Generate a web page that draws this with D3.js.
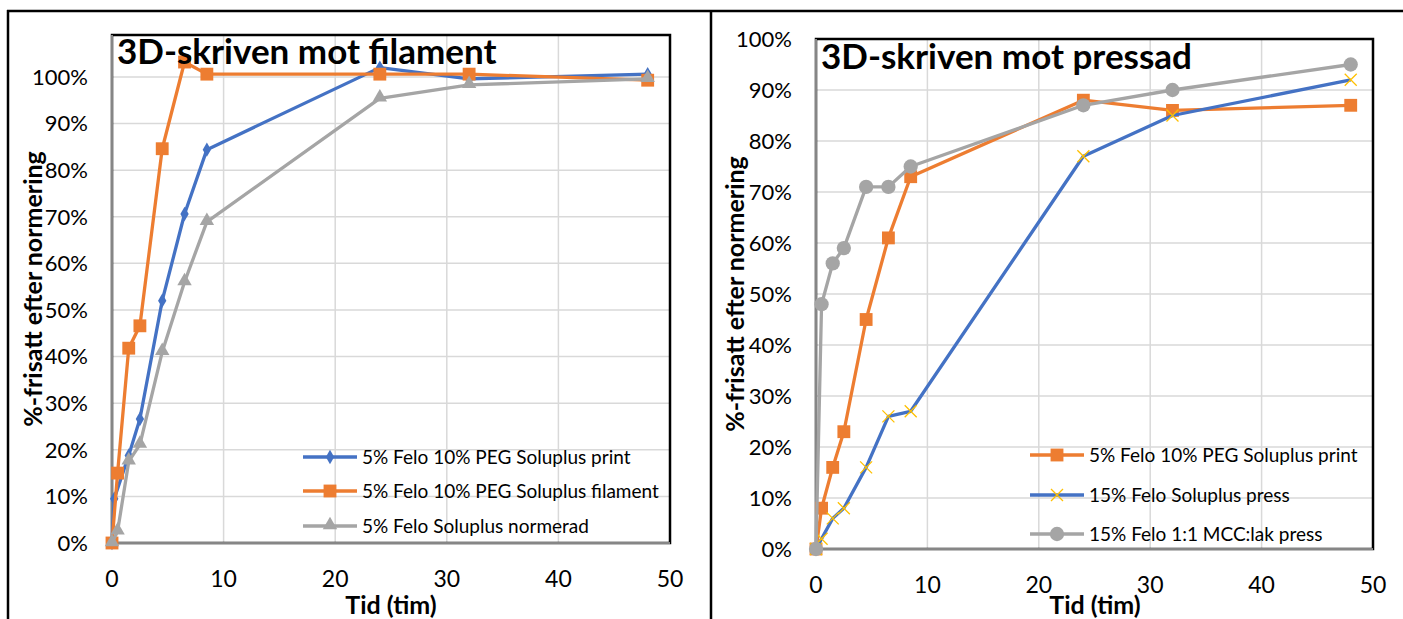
<!DOCTYPE html>
<meta charset="utf-8">
<head>
  <title>Frisättning</title>
</head>
<style>
body { margin: 0; background: #fff; }
svg { display: block; font-family: Lato, "Open Sans", sans-serif; }
.grid line { stroke: #d9d9d9; stroke-width: 1.5; }
.tick-y, .tick-x { font-size: 22px; fill: #000; }
.tick-x { font-size: 23px; }
.legend text { font-size: 19px; fill: #000; }
.title { font-size: 35px; font-weight: bold; fill: #000; }
.axis-title { font-size: 25px; font-weight: bold; fill: #000; }
</style>
<body>
<svg width="1403" height="619"></svg>
<script src="https://cdnjs.cloudflare.com/ajax/libs/d3/7.8.5/d3.min.js"></script>
<script>
// time points (hours)
var hours = [0, 0.5, 1.5, 2.5, 4.5, 6.5, 8.5, 24, 32, 48];
var hoursPrintLeft = [0, 0.2, 1.5, 2.5, 4.5, 6.5, 8.5, 24, 32, 48];

// left chart: 3D-skriven mot filament
var leftPrint     = [0, 0.095, 0.188, 0.266, 0.52, 0.706, 0.844, 1.02, 0.996, 1.006];
var leftFilament  = [0, 0.15, 0.418, 0.466, 0.846, 1.032, 1.006, 1.006, 1.006, 0.993];
var leftNormerad  = [0, 0.025, 0.175, 0.211, 0.41, 0.56, 0.689, 0.954, 0.983, 0.996];

// right chart: 3D-skriven mot pressad
var rightPrint = [0, 0.08, 0.16, 0.23, 0.45, 0.61, 0.73, 0.88, 0.86, 0.87];
var rightPress = [0, 0.02, 0.06, 0.08, 0.16, 0.26, 0.27, 0.77, 0.85, 0.92];
var rightMcc   = [0, 0.48, 0.56, 0.59, 0.71, 0.71, 0.75, 0.87, 0.90, 0.95];

var xTicks = [0, 10, 20, 30, 40, 50];
var yTicks = [0, 0.1, 0.2, 0.3, 0.4, 0.5, 0.6, 0.7, 0.8, 0.9, 1.0];

var titles = ["3D-skriven mot filament", "3D-skriven mot pressad"];
var leftLabels = ["5% Felo 10% PEG Soluplus print", "5% Felo 10% PEG Soluplus filament", "5% Felo Soluplus normerad"];
var rightLabels = ["5% Felo 10% PEG Soluplus print", "15% Felo Soluplus press", "15% Felo 1:1 MCC:lak press"];
var xTitle = "Tid (tim)";
var yTitle = "%-frisatt efter normering";

var BLUE = "#4472c4", ORANGE = "#ed7d31", GRAY = "#a5a5a5", GOLD = "#ffc000";

var svg = d3.select("svg");

// outer frame lines
svg.append("line").attr("x1", 7).attr("x2", 1403).attr("y1", 11).attr("y2", 11)
  .attr("stroke", "#000").attr("stroke-width", 2.5);
svg.append("line").attr("x1", 8).attr("x2", 8).attr("y1", 10).attr("y2", 619)
  .attr("stroke", "#000").attr("stroke-width", 2.5);
svg.append("line").attr("x1", 711).attr("x2", 711).attr("y1", 10).attr("y2", 619)
  .attr("stroke", "#000").attr("stroke-width", 2.5);

function marker(g, type, color, x, y) {
  if (type == "x") {
    var s = 6;
    g.append("path")
      .attr("d", "M" + (x - s) + "," + (y - s) + "L" + (x + s) + "," + (y + s) +
                 "M" + (x - s) + "," + (y + s) + "L" + (x + s) + "," + (y - s))
      .attr("stroke", GOLD).attr("stroke-width", 1.3).attr("fill", "none");
    return;
  }
  var sym = { diamond: d3.symbolDiamond, square: d3.symbolSquare, triangle: d3.symbolTriangle, circle: d3.symbolCircle }[type];
  var size = { diamond: 60, square: 165, triangle: 90, circle: 160 }[type];
  g.append("path")
    .attr("d", d3.symbol().type(sym).size(size)())
    .attr("transform", "translate(" + x + "," + (type == "triangle" ? y - 1 : y) + ")")
    .attr("fill", color);
}

function drawPanel(cfg) {
  var x = d3.scaleLinear().domain([0, 50]).range([cfg.left, cfg.right]);
  var y = d3.scaleLinear().domain([0, cfg.ymax]).range([cfg.bottom, cfg.top]);
  var g = svg.append("g");

  // gridlines
  var grid = g.append("g").attr("class", "grid");
  grid.selectAll(".gy").data(yTicks).enter().append("line")
    .attr("x1", cfg.left).attr("x2", cfg.right)
    .attr("y1", function(d){ return y(d); }).attr("y2", function(d){ return y(d); });
  grid.selectAll(".gx").data(xTicks).enter().append("line")
    .attr("y1", cfg.top).attr("y2", cfg.bottom)
    .attr("x1", function(d){ return x(d); }).attr("x2", function(d){ return x(d); });

  // plot area border
  g.append("rect").attr("x", cfg.left).attr("y", cfg.top)
    .attr("width", cfg.right - cfg.left).attr("height", cfg.bottom - cfg.top)
    .attr("fill", "none").attr("stroke", "#000").attr("stroke-width", 2.5);
  g.append("line").attr("x1", cfg.left).attr("x2", cfg.left).attr("y1", cfg.top).attr("y2", cfg.bottom)
    .attr("stroke", "#868686").attr("stroke-width", 2);
  g.append("line").attr("x1", cfg.left).attr("x2", cfg.right).attr("y1", cfg.bottom).attr("y2", cfg.bottom)
    .attr("stroke", "#868686").attr("stroke-width", 2);

  // tick labels
  g.selectAll(".tick-y").data(yTicks).enter().append("text")
    .attr("class", "tick-y")
    .attr("x", cfg.left - 24).attr("y", function(d){ return y(d); })
    .attr("dy", "0.36em").attr("text-anchor", "end")
    .text(d3.format(".0%"));
  g.selectAll(".tick-x").data(xTicks).enter().append("text")
    .attr("class", "tick-x")
    .attr("x", function(d){ return x(d); }).attr("y", cfg.bottom + 44)
    .attr("text-anchor", "middle")
    .text(function(d){ return d; });

  // series
  var line = d3.line().x(function(d){ return x(d[0]); }).y(function(d){ return y(d[1]); });
  cfg.series.forEach(function(s) {
    var pts = d3.zip(s.t, s.v);
    g.append("path").datum(pts).attr("d", line)
      .attr("fill", "none").attr("stroke", s.color).attr("stroke-width", 3.3)
      .attr("stroke-linejoin", "round");
    pts.forEach(function(p){ marker(g, s.marker, s.color, x(p[0]), y(p[1])); });
  });

  // legend
  var lg = g.append("g").attr("class", "legend");
  cfg.series.forEach(function(s, i) {
    var ly = cfg.legendY[i];
    lg.append("line").attr("x1", cfg.legendX).attr("x2", cfg.legendX + 54)
      .attr("y1", ly).attr("y2", ly).attr("stroke", s.color).attr("stroke-width", 3.3);
    marker(lg, s.marker, s.color, cfg.legendX + 27, ly);
    lg.append("text").attr("x", cfg.legendX + 59).attr("y", ly).attr("dy", "0.35em")
      .text(s.label);
  });

  // titles
  g.append("text").attr("class", "title").attr("x", cfg.left + 5).attr("y", cfg.titleY).text(cfg.title);
  g.append("text").attr("class", "axis-title")
    .attr("transform", "translate(" + cfg.yTitleX + "," + cfg.yTitleY + ") rotate(-90)")
    .attr("text-anchor", "middle").attr("dy", "0.35em").text(yTitle);
  g.append("text").attr("class", "axis-title")
    .attr("x", cfg.xTitleX).attr("y", 614).attr("text-anchor", "middle")
    .text(xTitle);
}

drawPanel({
  left: 112, right: 670, top: 35, bottom: 543, ymax: 1.09,
  title: titles[0], titleY: 64, yTitleX: 33, yTitleY: 289, xTitleX: 391,
  legendX: 303, legendY: [457, 491, 526],
  series: [
    { t: hoursPrintLeft, v: leftPrint, color: BLUE, marker: "diamond", label: leftLabels[0] },
    { t: hours, v: leftFilament, color: ORANGE, marker: "square", label: leftLabels[1] },
    { t: hours, v: leftNormerad, color: GRAY, marker: "triangle", label: leftLabels[2] }
  ]
});

drawPanel({
  left: 816, right: 1373, top: 39, bottom: 549, ymax: 1.0,
  title: titles[1], titleY: 69, yTitleX: 735, yTitleY: 294, xTitleX: 1095,
  legendX: 1030, legendY: [455, 495, 534],
  series: [
    { t: hours, v: rightPrint, color: ORANGE, marker: "square", label: rightLabels[0] },
    { t: hours, v: rightPress, color: BLUE, marker: "x", label: rightLabels[1] },
    { t: hours, v: rightMcc, color: GRAY, marker: "circle", label: rightLabels[2] }
  ]
});
</script>
</body>
</html>
